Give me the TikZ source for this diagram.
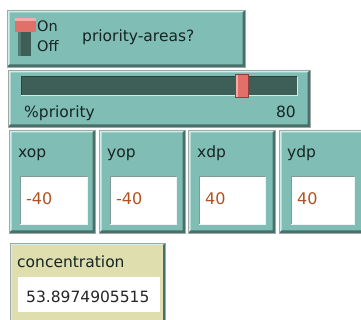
\documentclass[tikz,border=0pt]{standalone}
\usepackage{fontspec}
\setmainfont{DejaVu Sans}
\definecolor{panelteal}{RGB}{128,189,181}
\definecolor{panelhi}{RGB}{205,238,233}
\definecolor{panelsh}{RGB}{72,112,106}
\definecolor{paneledge}{RGB}{160,168,168}
\definecolor{trackc}{RGB}{62,94,88}
\definecolor{thumbc}{RGB}{226,112,106}
\definecolor{thumbhi}{RGB}{245,170,165}
\definecolor{monbeige}{RGB}{222,222,174}
\definecolor{valorange}{RGB}{175,82,32}
\definecolor{labeltext}{RGB}{22,36,36}
\tikzset{
  lbl/.style={inner sep=0pt, font=\fontsize{15.5}{18}\selectfont, text=labeltext},
  val/.style={lbl, text=valorange, font=\fontsize{16}{18}\selectfont},
  onoff/.style={lbl, font=\fontsize{14.5}{16}\selectfont},
}
% raised panel: left, top, right, bottom, fill colour, bevel width
\newcommand\raisedpanel[6]{%
  \fill[#5] (#1,#2) rectangle (#3,#4);
  \fill[panelhi] (#1,#2) -- (#3,#2) -- ({#3-#6},{#2+#6}) -- ({#1+#6},{#2+#6})
     -- ({#1+#6},{#4-#6}) -- (#1,#4) -- cycle;
  \fill[panelsh] (#3,#4) -- (#1,#4) -- ({#1+#6},{#4-#6}) -- ({#3-#6},{#4-#6})
     -- ({#3-#6},{#2+#6}) -- (#3,#2) -- cycle;
  \draw[paneledge, line width=0.8pt] (#1,#2) rectangle (#3,#4);
}
% sunken field: left, top, right, bottom, fill colour
\newcommand\sunkenfield[5]{%
  \fill[#5] (#1,#2) rectangle (#3,#4);
  \draw[panelsh!70, line width=1pt] (#1,#4) -- (#1,#2) -- (#3,#2);
  \draw[white!85!panelteal, line width=1pt] (#3,#2) -- (#3,#4) -- (#1,#4);
}
\begin{document}
\begin{tikzpicture}[x=1pt, y=-1pt]
\useasboundingbox (0,0) rectangle (361,320);
\fill[white] (0,0) rectangle (361,320);
\begin{scope}
\clip (0,0) rectangle (361,320);

% switch
\raisedpanel{7}{10}{245}{67}{panelteal}{2.5}
\fill[trackc] (18,31) rectangle (31,56);
\fill[trackc!70!panelteal] (18,31) rectangle (21,56);
\fill[thumbc] (15,18) rectangle (36,32);
\fill[thumbhi] (15,18) rectangle (36,21);
\node[onoff, anchor=base west] (on) at (37,32) {On};
\node[onoff, anchor=base west] (off) at (37,52) {Off};
\node[lbl, anchor=base west] (swname) at (82,42) {priority-areas?};

% slider
\raisedpanel{8}{70}{310}{127}{panelteal}{2.5}
\fill[trackc] (21,77) rectangle (297,95);
\draw[panelsh!60!black, line width=1pt] (21,95) -- (21,77) -- (297,77);
\draw[panelhi, line width=0.8pt] (297,77) -- (297,95) -- (21,95);
\fill[thumbc] (235,74) rectangle (248,97);
\fill[thumbhi] (235,74) rectangle (238,97);
\draw[thumbc!60!black, line width=0.6pt] (235,74) rectangle (248,97);
\node[lbl, anchor=base west] (sldname) at (24,118) {\%priority};
\node[lbl, anchor=base east] (sldval) at (296,118) {80};

% inputs
\raisedpanel{9}{130}{95}{233}{panelteal}{2.5}
\raisedpanel{99}{130}{185}{233}{panelteal}{2.5}
\raisedpanel{188}{130}{275}{233}{panelteal}{2.5}
\raisedpanel{279}{130}{366}{233}{panelteal}{2.5}
\sunkenfield{20}{177}{87}{225}{white}
\sunkenfield{110}{177}{176}{225}{white}
\sunkenfield{199}{177}{265}{225}{white}
\sunkenfield{291}{177}{354}{225}{white}
\node[lbl, anchor=base west] (xopl) at (18,158) {xop};
\node[lbl, anchor=base west] (yopl) at (107,158) {yop};
\node[lbl, anchor=base west] (xdpl) at (197,158) {xdp};
\node[lbl, anchor=base west] (ydpl) at (287,158) {ydp};
\node[val, anchor=base west] (xopv) at (26,205) {-40};
\node[val, anchor=base west] (yopv) at (116,205) {-40};
\node[val, anchor=base west] (xdpv) at (205,205) {40};
\node[val, anchor=base west] (ydpv) at (297,205) {40};

% monitor
\raisedpanel{10}{243}{165}{323}{monbeige}{2}
\fill[white] (18,277) rectangle (160,312);
\node[lbl, anchor=base west] (monname) at (17,267) {concentration};
\begin{scope}
\clip (18,277) rectangle (161,312);
\node[lbl, anchor=base west, text=black!85] (monval) at (26,302) {53.8974905515};
\end{scope}
\end{scope}
\end{tikzpicture}
\end{document}
